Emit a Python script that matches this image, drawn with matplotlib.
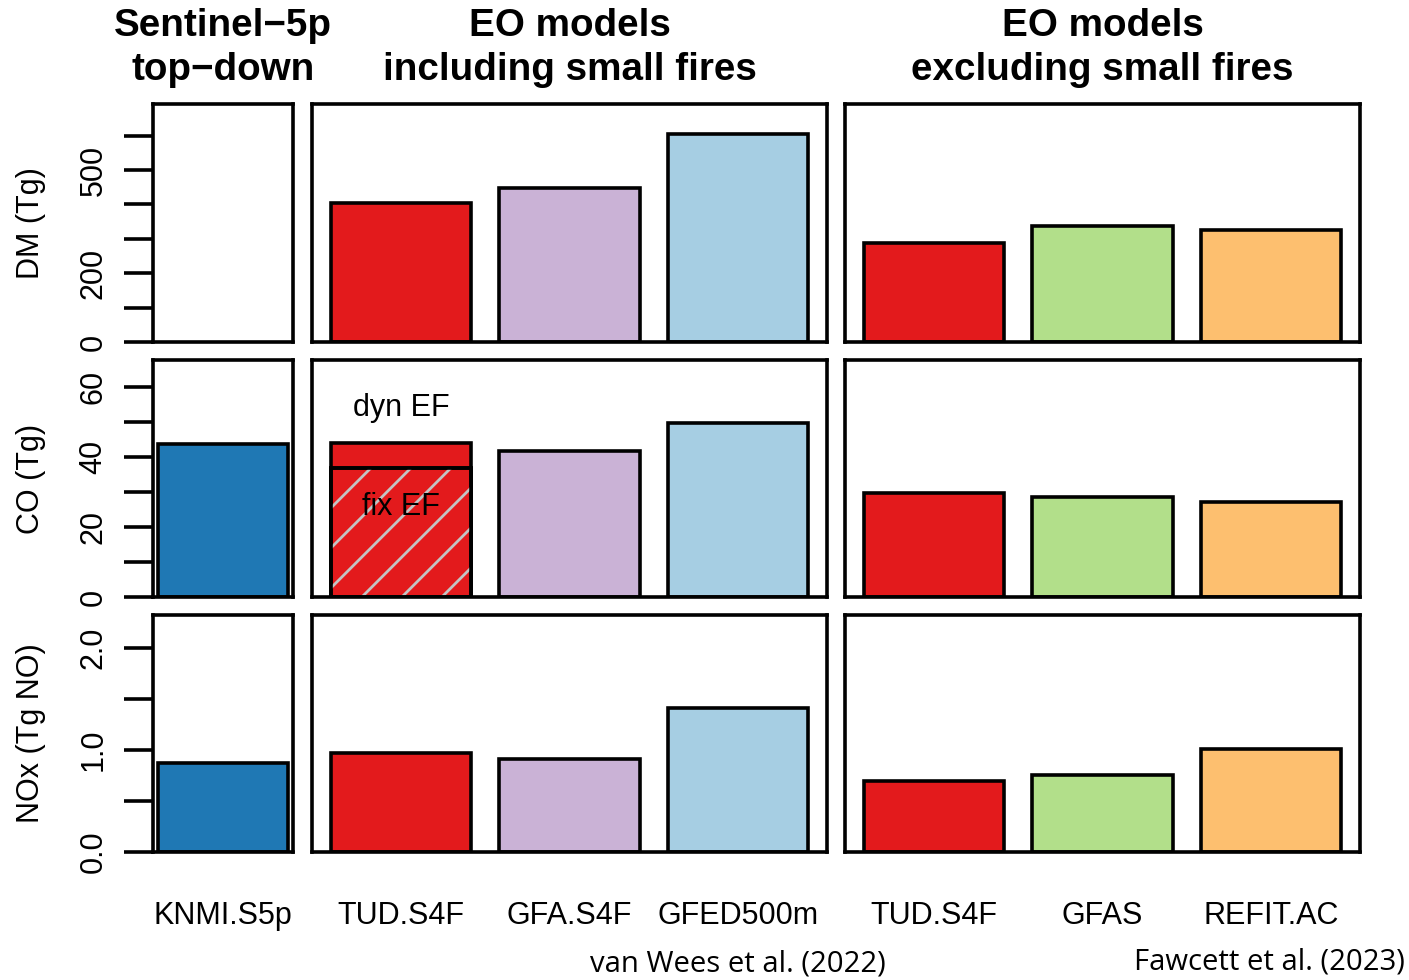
import matplotlib
matplotlib.use("Agg")
import matplotlib.pyplot as plt
from matplotlib.lines import Line2D
from matplotlib.transforms import blended_transform_factory, IdentityTransform
import numpy as np

plt.rcParams['font.family'] = ['Liberation Sans', 'DejaVu Sans']

# ---- data -------------------------------------------------------------
topdown_names = ['KNMI.S5p']
incl_names = ['TUD.S4F', 'GFA.S4F', 'GFED500m']
excl_names = ['TUD.S4F', 'GFAS', 'REFIT.AC']

dm_topdown = []                      # no dry-matter estimate from TROPOMI
dm_incl = [405, 449, 604]
dm_excl = [289, 336, 327]

co_topdown = [43.7]
co_incl = [44.0, 41.8, 49.8]         # TUD.S4F with dynamic EF
co_tud_fix_ef = 36.9                 # TUD.S4F with fixed EF
co_excl = [29.8, 28.6, 27.2]

nox_topdown = [0.87]
nox_incl = [0.97, 0.915, 1.415]
nox_excl = [0.70, 0.76, 1.01]

row_labels = ['DM (Tg)', 'CO (Tg)', 'NOx (Tg NO)']
col_titles = ['Sentinel\u22125p\ntop\u2212down',
              'EO models\nincluding small fires',
              'EO models\nexcluding small fires']

c_knmi = '#1F78B4'
c_tud = '#E31A1C'
incl_colors = [c_tud, '#CAB2D6', '#A6CEE3']
excl_colors = [c_tud, '#B2DF8A', '#FDBF6F']

# ---- layout -----------------------------------------------------------
W, H = 1409, 980
fig = plt.figure(figsize=(W / 100, H / 100), dpi=100)

col_px = [(153, 293), (312, 827), (845, 1360)]
row_px = [(104, 342), (360, 597), (615, 852)]
row_ylim = [692, 67.7, 2.326]
row_ticks = [np.arange(0, 601, 100), np.arange(0, 61, 10), np.arange(0, 2.01, 0.5)]
row_ticklabels = [['0', '', '200', '', '', '500', ''],
                  ['0', '', '20', '', '40', '', '60'],
                  ['0.0', '', '1.0', '', '2.0']]

LW = 2.6
FS = 22

data = [
    [dm_topdown, dm_incl, dm_excl],
    [co_topdown, co_incl, co_excl],
    [nox_topdown, nox_incl, nox_excl],
]
names = [topdown_names, incl_names, excl_names]
colors = [[c_knmi], incl_colors, excl_colors]

axes = {}
for r, (y0, y1) in enumerate(row_px):
    for c, (x0, x1) in enumerate(col_px):
        ax = fig.add_axes([x0 / W, 1 - y1 / H, (x1 - x0) / W, (y1 - y0) / H])
        axes[r, c] = ax
        n = len(names[c])
        centers = 0.7 + 1.2 * np.arange(n)
        span = 1.2 * n - 0.2
        pad = 0.04 * span
        ax.set_xlim(0.2 - pad, 0.2 + span + pad)
        ax.set_ylim(0, row_ylim[r])
        vals = data[r][c]
        if len(vals):
            ax.bar(centers[:len(vals)], vals, width=1.0, color=colors[c][:len(vals)],
                   edgecolor='black', linewidth=LW, zorder=2)
        for s in ax.spines.values():
            s.set_linewidth(LW)
            s.set_zorder(5)
        ax.set_xticks([])
        if c == 0:
            ax.set_yticks(row_ticks[r])
            ax.set_yticklabels(row_ticklabels[r], rotation=90, va='center',
                               fontsize=FS)
            ax.tick_params(axis='y', length=21, width=LW, pad=11)
            for lab in ax.get_yticklabels():
                lab.set_verticalalignment('center')
        else:
            ax.set_yticks([])
        if r == 2:
            tr = blended_transform_factory(ax.transData, fig.transFigure)
            for xc, nm in zip(centers, names[c]):
                ax.text(xc, 1 - 916 / H, nm, transform=tr, ha='center', va='center',
                        fontsize=FS, clip_on=False)
        if r == 0:
            tr = blended_transform_factory(ax.transAxes, fig.transFigure)
            ax.text(0.5, 1 - 48 / H, col_titles[c], transform=tr, ha='center',
                    va='center', fontsize=27.8, fontweight='bold', linespacing=1.26,
                    clip_on=False)

# fixed-EF part of the TUD.S4F CO bar, hatched with grey diagonals
ax = axes[1, 1]
fix = ax.bar([0.7], [co_tud_fix_ef], width=1.0, color=c_tud, edgecolor='black',
             linewidth=LW, zorder=3)[0]
bb = fix.get_window_extent(renderer=fig.canvas.get_renderer())
hgt = bb.y1 - bb.y0
for off in np.arange(bb.x0 - hgt, bb.x1 + 40, 40):
    ln = Line2D([off, off + hgt], [bb.y0, bb.y1], color='#C4C4C4', linewidth=2.0,
                transform=IdentityTransform(), zorder=3.5)
    ax.add_line(ln)
    ln.set_clip_path(fix)
# redraw the outline above the hatch lines
ax.bar([0.7], [co_tud_fix_ef], width=1.0, fill=False, edgecolor='black',
       linewidth=LW, zorder=4)
ax.text(0.7, 54.0, 'dyn EF', ha='center', va='center', fontsize=FS, zorder=6)
ax.text(0.7, 25.6, 'fix EF', ha='center', va='center', fontsize=FS, zorder=6)

# row labels
for r, (y0, y1) in enumerate(row_px):
    fig.text(31 / W, 1 - (y0 + y1) / 2 / H, row_labels[r], rotation=90,
             ha='center', va='center', fontsize=FS)

# sources
fig.text(738 / W, 1 - 964 / H, 'van Wees et al. (2022)', ha='center', va='center',
         fontsize=21.1, family=['Open Sans', 'DejaVu Sans'])
fig.text(1405 / W, 1 - 962 / H, 'Fawcett et al. (2023)', ha='right', va='center',
         fontsize=21.1, family=['Open Sans', 'DejaVu Sans'])

fig.savefig('out.png', dpi=100)
